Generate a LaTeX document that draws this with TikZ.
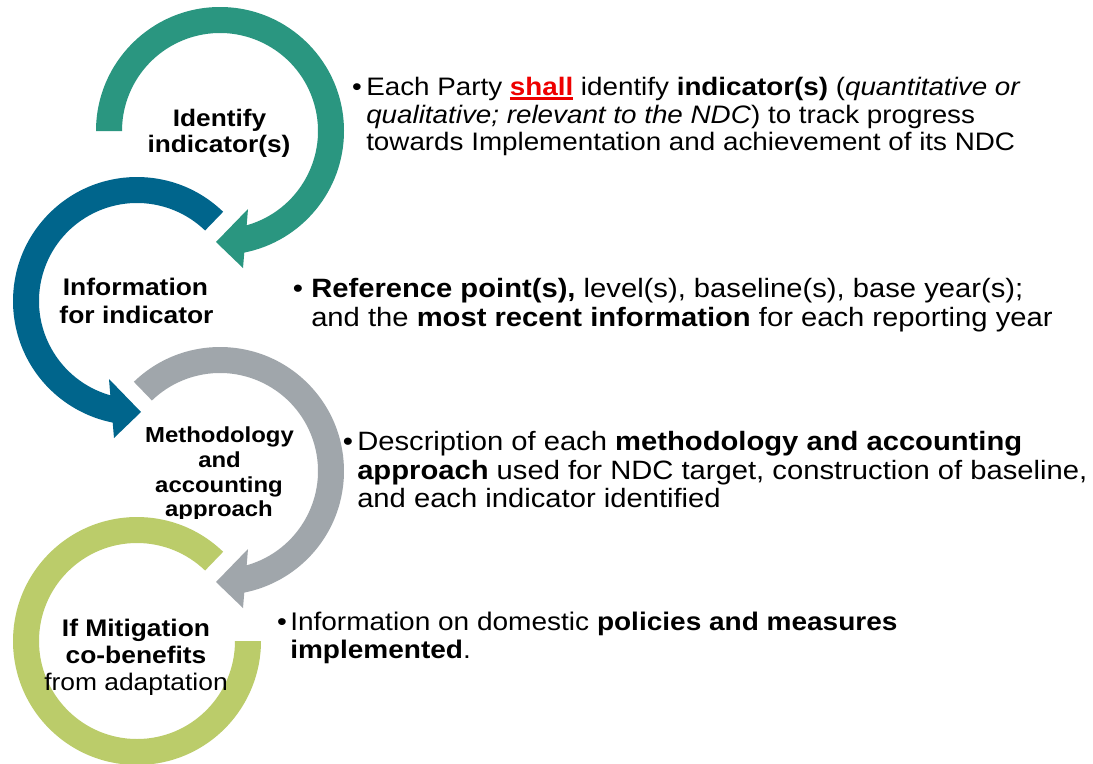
\documentclass[tikz,border=0pt]{standalone}
\usepackage{fontspec}
\setmainfont{Liberation Sans}[FakeStretch=1.1]
\definecolor{cteal}{RGB}{42,150,128}
\definecolor{cblue}{RGB}{0,101,140}
\definecolor{cgray}{RGB}{160,166,171}
\definecolor{cgreen}{RGB}{187,204,106}
\definecolor{cred}{RGB}{238,0,0}
\newcommand\redul[1]{\setbox0\hbox{#1}\rlap{\rule[-4pt]{\wd0}{2.6pt}}\box0}
\newcommand\arrowring[1]{(#1:124) arc[start angle=#1, end angle=-78.7, radius=124] -- (23,-137) -- (-4,-111) -- (28,-78) -- (-74.2:98) arc[start angle=-74.2, end angle=#1, radius=98] -- cycle}
\begin{document}
\begin{tikzpicture}[x=0.75pt,y=0.75pt,
  lbl/.style={anchor=base, inner sep=0pt},
  txt/.style={anchor=base west, inner sep=0pt},
  bul/.style={anchor=base, inner sep=0pt},
  fa/.style={font=\fontsize{17.9}{20}\selectfont\bfseries},
  fb/.style={font=\fontsize{18}{20}\selectfont\bfseries},
  fc/.style={font=\fontsize{16.3}{18}\selectfont\bfseries},
  fd/.style={font=\fontsize{18}{20}\selectfont},
  ta/.style={font=\fontsize{18.95}{21}\selectfont},
  tb/.style={font=\fontsize{19.9}{22}\selectfont},
  td/.style={font=\fontsize{19.1}{21}\selectfont}]
\useasboundingbox (0,0) rectangle (1093,-764);
\fill[white] (0,0) rectangle (1093,-764);
% rings
\begin{scope}[shift={(220,-131)}]
  \fill[cteal] \arrowring{180};
\end{scope}
\begin{scope}[shift={(137,-301)}, xscale=-1]
  \fill[cblue] \arrowring{134};
\end{scope}
\begin{scope}[shift={(220,-471)}]
  \fill[cgray] \arrowring{134};
\end{scope}
\begin{scope}[shift={(137,-641)}, xscale=-1]
  \fill[cgreen] (134:124) arc[start angle=134, end angle=-180, radius=124] -- (-180:98) arc[start angle=-180, end angle=134, radius=98] -- cycle;
\end{scope}
% left labels
\node[lbl,fa] (l1a) at (219.5,-126) {Identify};
\node[lbl,fa] (l1b) at (219,-152) {indicator(s)};
\node[lbl,fb] (l2a) at (135.5,-295) {Information};
\node[lbl,fb] (l2b) at (136.5,-323) {for indicator};
\node[lbl,fc] (l3a) at (219.5,-442) {Methodology};
\node[lbl,fc] (l3b) at (219.5,-467) {and};
\node[lbl,fc] (l3c) at (219,-492) {accounting};
\begin{scope}
  \clip (100,-500) rectangle (340,-518);
  \node[lbl,fc] (l3d) at (219,-516) {approach};
\end{scope}
\node[lbl,fb] (l4a) at (136,-636) {If Mitigation};
\node[lbl,fb] (l4b) at (136,-663) {co-benefits};
\node[lbl,fd] (l4c) at (136,-690) {from adaptation};
% right texts
\node[bul,ta] (b1) at (357,-95) {\textbullet};
\node[txt,ta] (t1a) at (366,-95) {Each Party {\color{cred}\bfseries\redul{shall}} identify \textbf{indicator(s)} (\textit{quantitative or}};
\node[txt,ta] (t1b) at (366,-123) {\textit{qualitative; relevant to the NDC}) to track progress};
\node[txt,ta] (t1c) at (366,-150) {towards Implementation and achievement of its NDC};
\node[bul,tb] (b2) at (298,-297) {\textbullet};
\node[txt,tb] (t2a) at (311,-297) {\textbf{Reference point(s),} level(s), baseline(s), base year(s);};
\node[txt,tb] (t2b) at (311,-326) {and the \textbf{most recent information} for each reporting year};
\node[bul,tb] (b3) at (348,-450) {\textbullet};
\node[txt,tb] (t3a) at (357,-450) {Description of each \textbf{methodology and accounting}};
\node[txt,tb] (t3b) at (357,-479) {\textbf{approach} used for NDC target, construction of baseline,};
\node[txt,tb] (t3c) at (357,-507) {and each indicator identified};
\node[bul,td] (b4) at (282,-630) {\textbullet};
\node[txt,td] (t4a) at (290,-630) {Information on domestic \textbf{policies and measures}};
\node[txt,td] (t4b) at (290,-658) {\textbf{implemented}.};
\end{tikzpicture}
\end{document}
